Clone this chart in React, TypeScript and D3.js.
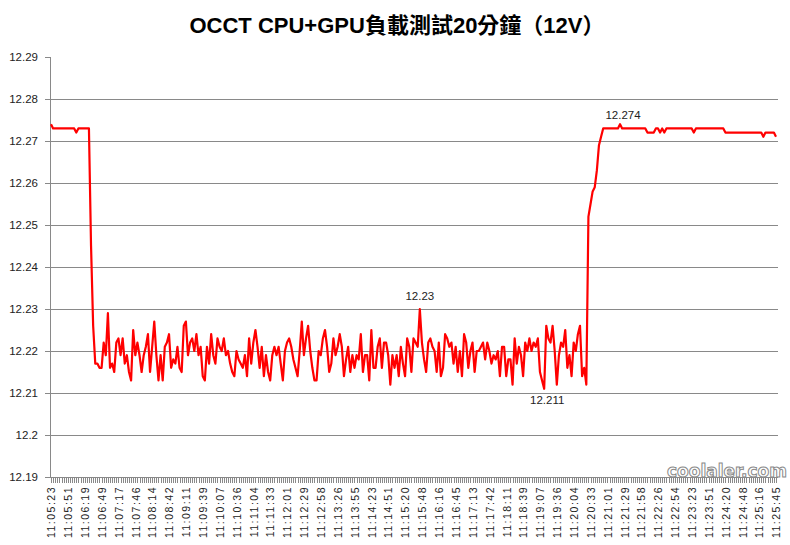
//@ts-nocheck
import * as d3 from "d3";
import { useEffect, useRef } from "react";

// category labels (one every 8 samples)
const timeLabels = [
  "11:05:23", "11:05:51", "11:06:19", "11:06:49", "11:07:17", "11:07:46", "11:08:14", "11:08:42",
  "11:09:11", "11:09:39", "11:10:07", "11:10:36", "11:11:04", "11:11:33", "11:12:01", "11:12:29",
  "11:12:58", "11:13:26", "11:13:55", "11:14:23", "11:14:51", "11:15:20", "11:15:48", "11:16:16",
  "11:16:45", "11:17:13", "11:17:42", "11:18:11", "11:18:39", "11:19:07", "11:19:36", "11:20:04",
  "11:20:33", "11:21:01", "11:21:29", "11:21:58", "11:22:26", "11:22:54", "11:23:23", "11:23:51",
  "11:24:20", "11:24:48", "11:25:16", "11:25:45"
];
const labelEvery = 8;

const yTicks = [12.19, 12.2, 12.21, 12.22, 12.23, 12.24, 12.25, 12.26, 12.27, 12.28, 12.29];

// 12V readings, split by phase
const idleStart = [
  12.274, 12.273, 12.273, 12.273, 12.273, 12.273, 12.273, 12.273, 12.273, 12.273,
  12.273, 12.273, 12.272, 12.273, 12.273, 12.273, 12.273, 12.273, 12.273
];
const dropStep = [12.245, 12.226];
const loadPhase = [
  12.217, 12.217, 12.216, 12.216, 12.222, 12.219, 12.229, 12.216, 12.217, 12.215,
  12.222, 12.223, 12.219, 12.223, 12.217, 12.219, 12.215, 12.213, 12.225, 12.219,
  12.222, 12.219, 12.215, 12.219, 12.221, 12.224, 12.215, 12.221, 12.227, 12.219,
  12.213, 12.219, 12.213, 12.221, 12.222, 12.224, 12.216, 12.218, 12.217, 12.221,
  12.216, 12.215, 12.226, 12.227, 12.219, 12.222, 12.223, 12.220, 12.224, 12.219,
  12.221, 12.214, 12.213, 12.221, 12.217, 12.224, 12.219, 12.217, 12.223, 12.221,
  12.220, 12.223, 12.219, 12.220, 12.217, 12.215, 12.214, 12.220, 12.218, 12.217,
  12.216, 12.219, 12.214, 12.223, 12.217, 12.222, 12.225, 12.221, 12.216, 12.221,
  12.214, 12.219, 12.215, 12.213, 12.219, 12.221, 12.219, 12.221, 12.217, 12.213,
  12.220, 12.222, 12.223, 12.221, 12.218, 12.216, 12.214, 12.220, 12.227, 12.219,
  12.223, 12.226, 12.220, 12.216, 12.213, 12.213, 12.220, 12.219, 12.223, 12.225,
  12.221, 12.215, 12.217, 12.223, 12.219, 12.221, 12.224, 12.221, 12.214, 12.218,
  12.221, 12.215, 12.219, 12.216, 12.219, 12.218, 12.224, 12.215, 12.219, 12.219,
  12.213, 12.225, 12.216, 12.216, 12.221, 12.223, 12.216, 12.222, 12.222, 12.219,
  12.212, 12.219, 12.216, 12.219, 12.214, 12.221, 12.217, 12.214, 12.223, 12.221,
  12.215, 12.223, 12.222, 12.221, 12.230, 12.222, 12.218, 12.215, 12.222, 12.223,
  12.221, 12.220, 12.215, 12.222, 12.214, 12.216, 12.224, 12.223, 12.221, 12.222,
  12.217, 12.221, 12.215, 12.220, 12.214, 12.224, 12.222, 12.216, 12.220, 12.222,
  12.215, 12.220, 12.220, 12.221, 12.222, 12.218, 12.222, 12.220, 12.217, 12.219,
  12.218, 12.220, 12.214, 12.221, 12.221, 12.214, 12.218, 12.218, 12.212, 12.223,
  12.217, 12.221, 12.219, 12.214, 12.222, 12.220, 12.223, 12.220, 12.222, 12.221,
  12.223, 12.215, 12.213, 12.211, 12.226, 12.223, 12.222, 12.226, 12.220, 12.212,
  12.219, 12.222, 12.221, 12.225, 12.216, 12.219, 12.214, 12.222, 12.220, 12.224,
  12.226, 12.214, 12.216, 12.212
];
const riseStep = [12.252, 12.255, 12.258, 12.259, 12.263, 12.269, 12.271];
const endPlateau = [
  12.273, 12.273, 12.273, 12.273, 12.273, 12.273, 12.273, 12.273, 12.274, 12.273,
  12.273, 12.273, 12.273, 12.273, 12.273, 12.273, 12.273, 12.273, 12.273, 12.273,
  12.273, 12.272, 12.272, 12.272, 12.272, 12.273, 12.273, 12.272, 12.273, 12.272,
  12.273, 12.273, 12.273, 12.273, 12.273, 12.273, 12.273, 12.273, 12.273, 12.273,
  12.273, 12.273, 12.273, 12.272, 12.273, 12.273, 12.273, 12.273, 12.273, 12.273,
  12.273, 12.273, 12.273, 12.273, 12.273, 12.273, 12.273, 12.273, 12.272, 12.272,
  12.272, 12.272, 12.272, 12.272, 12.272, 12.272, 12.272, 12.272, 12.272, 12.272,
  12.272, 12.272, 12.272, 12.272, 12.272, 12.272, 12.271, 12.272, 12.272, 12.272,
  12.272, 12.272, 12.271
];

const voltage = [...idleStart, ...dropStep, ...loadPhase, ...riseStep, ...endPlateau];

// which points carry a value label
const markMax = voltage.indexOf(12.23);
const markEnd = voltage.indexOf(12.274, 100);
const markMin = voltage.indexOf(12.211);

const App = () => {
  const ref = useRef(null);

  useEffect(() => {
    ref.current.innerHTML = "";
    drawChart(ref.current);
  }, []);

  return (
    <svg
      ref={ref}
      width={790}
      height={545}
      style={{ position: "absolute", left: 0, top: 0, background: "#fff" }}
    ></svg>
  );
};

const drawChart = (node) => {
  const width = 790;
  const left = 50, right = 778, top = 57, bottom = 477;
  const grey = "#898989";
  const font = "'Liberation Sans', Arial, sans-serif";

  const svg = d3.select(node);

  const x = d3.scaleLinear().domain([0, voltage.length - 1]).range([51, 776]);
  const y = d3.scaleLinear().domain([12.19, 12.29]).range([bottom, top]);

  // title
  svg.append("text")
    .attr("x", width / 2 + 2)
    .attr("y", 33)
    .attr("text-anchor", "middle")
    .style("font-family", "'Liberation Sans', 'Noto Sans CJK TC', sans-serif")
    .style("font-weight", "bold")
    .style("font-size", "22px")
    .text("OCCT CPU+GPU負載測試20分鐘（12V）");

  // horizontal grid lines
  svg.selectAll("line.grid")
    .data(yTicks.filter(d => d > 12.19 && d < 12.29))
    .enter()
    .append("line")
    .attr("class", "grid")
    .attr("x1", left)
    .attr("x2", right)
    .attr("y1", d => Math.round(y(d)) + 0.5)
    .attr("y2", d => Math.round(y(d)) + 0.5)
    .attr("stroke", grey);

  // y axis
  svg.append("line")
    .attr("x1", left + 0.5).attr("x2", left + 0.5)
    .attr("y1", top).attr("y2", bottom)
    .attr("stroke", grey);
  svg.selectAll("line.ytick")
    .data(yTicks)
    .enter()
    .append("line")
    .attr("x1", left - 5).attr("x2", left)
    .attr("y1", d => Math.round(y(d)) + 0.5)
    .attr("y2", d => Math.round(y(d)) + 0.5)
    .attr("stroke", grey);
  svg.selectAll("text.ylab")
    .data(yTicks)
    .enter()
    .append("text")
    .attr("x", 38)
    .attr("y", d => y(d))
    .attr("dy", "0.36em")
    .attr("text-anchor", "end")
    .style("font-family", font)
    .style("font-size", "11.5px")
    .style("fill", "#222")
    .text(d => d3.format("~g")(d));

  // x axis with a tick for every sample
  svg.append("line")
    .attr("x1", left).attr("x2", right)
    .attr("y1", bottom + 0.5).attr("y2", bottom + 0.5)
    .attr("stroke", grey);
  svg.selectAll("line.xtick")
    .data(voltage)
    .enter()
    .append("line")
    .attr("x1", (d, i) => Math.round(x(i)) + 0.5)
    .attr("x2", (d, i) => Math.round(x(i)) + 0.5)
    .attr("y1", bottom)
    .attr("y2", bottom + 6)
    .attr("stroke", grey);

  svg.selectAll("text.xlab")
    .data(timeLabels)
    .enter()
    .append("text")
    .attr("transform", (d, i) => "translate(" + (x(i * labelEvery) + 0.5) + "," + (bottom + 9) + ") rotate(-90)")
    .attr("dy", "0.36em")
    .attr("text-anchor", "end")
    .style("font-family", font)
    .style("font-size", "10.5px")
    .style("letter-spacing", "1.5px")
    .style("fill", "#222")
    .text(d => d);

  // the voltage line
  const line = d3.line()
    .x((d, i) => x(i))
    .y(d => y(d));
  svg.append("path")
    .datum(voltage)
    .attr("d", line)
    .attr("fill", "none")
    .attr("stroke", "#ff0000")
    .attr("stroke-width", 2.2)
    .attr("stroke-linejoin", "round");

  // value labels
  const marks = [
    { i: markMax, dx: 0, dy: -9 },
    { i: markEnd, dx: 3, dy: -5 },
    { i: markMin, dx: 3, dy: 15 }
  ];
  svg.selectAll("text.mark")
    .data(marks)
    .enter()
    .append("text")
    .attr("x", d => x(d.i) + d.dx)
    .attr("y", d => y(voltage[d.i]) + d.dy)
    .attr("text-anchor", "middle")
    .style("font-family", font)
    .style("font-size", "11.5px")
    .style("fill", "#222")
    .text(d => d3.format("~g")(voltage[d.i]));

  // watermark
  svg.append("text")
    .attr("x", 787)
    .attr("y", 477)
    .attr("text-anchor", "end")
    .style("font-family", "'DejaVu Sans', sans-serif")
    .style("font-weight", "bold")
    .style("font-size", "17px")
    .style("fill", "#fff")
    .style("stroke", "#8a8a8a")
    .style("stroke-width", 1)
    .text("coolaler.com");
};

export default App;
